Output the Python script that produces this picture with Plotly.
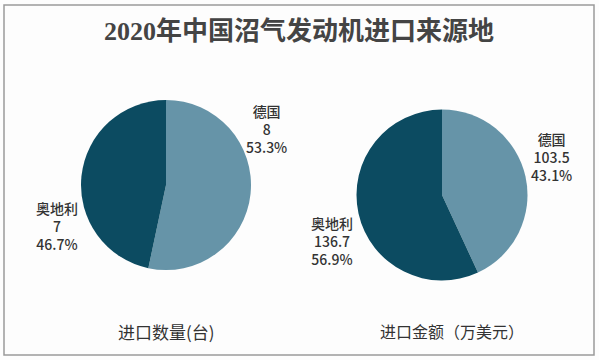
import plotly.graph_objects as go

countries = ["德国", "奥地利"]
qty_values = [8, 7]
amt_values = [103.5, 136.7]
qty_label_text = ["8", "7"]
amt_label_text = ["103.5", "136.7"]
chart_title = "2020年中国沼气发动机进口来源地"
sub_titles = ["进口数量(台)", "进口金额（万美元）"]

colors = ["#6694A8", "#0C4B61"]
W, H = 599, 360

fig = go.Figure()

def px_domain(cx, cy, r):
    return dict(x=[(cx - r) / W, (cx + r) / W], y=[1 - (cy + r) / H, 1 - (cy - r) / H])

fig.add_trace(go.Pie(labels=countries, values=qty_values, sort=False, direction="clockwise",
                     rotation=0, marker=dict(colors=colors, line=dict(width=0)),
                     textinfo="none", hoverinfo="label+value+percent",
                     domain=px_domain(166, 185, 85), showlegend=False))
fig.add_trace(go.Pie(labels=countries, values=amt_values, sort=False, direction="clockwise",
                     rotation=0, marker=dict(colors=colors, line=dict(width=0)),
                     textinfo="none", hoverinfo="label+value+percent",
                     domain=px_domain(442, 195, 85.5), showlegend=False))

def pct(vals, i):
    return f"{vals[i] / sum(vals) * 100:.1f}%"

label_font = dict(family="Noto Sans CJK SC", size=14, color="#333333", weight=500)
ann = []
pos_left = [(266, 129), (57, 226)]
pos_right = [(551, 157), (332, 241)]

def add_ann(x, y, text, font):
    ann.append(dict(x=x / W, y=1 - y / H, xref="paper", yref="paper", showarrow=False,
                    xanchor="center", yanchor="middle", text=text, font=font, align="center"))

for i, (x, y) in enumerate(pos_left):
    add_ann(x, y, f"{countries[i]}<br>{qty_label_text[i]}<br>{pct(qty_values, i)}", label_font)
for i, (x, y) in enumerate(pos_right):
    add_ann(x, y, f"{countries[i]}<br>{amt_label_text[i]}<br>{pct(amt_values, i)}", label_font)
add_ann(299, 31, chart_title,
        dict(family="Liberation Serif, Noto Sans CJK SC", size=26, color="#444444", weight="bold"))
add_ann(166, 331, sub_titles[0], dict(family="Noto Sans CJK SC", size=17, color="#333333"))
add_ann(452, 331, sub_titles[1], dict(family="Noto Sans CJK SC", size=16, color="#333333"))

fig.update_layout(
    width=W, height=H, margin=dict(l=0, r=0, t=0, b=0),
    paper_bgcolor="#fdfdfd", plot_bgcolor="#fdfdfd",
    annotations=ann,
    shapes=[dict(type="rect", xref="paper", yref="paper", x0=4 / W, x1=594 / W,
                 y0=1 - 355 / H, y1=1 - 5 / H, line=dict(color="#9a9a9a", width=1.5))],
)
fig.write_html("out.html", config={"displayModeBar": False},
               post_script="document.body.style.margin='0';")
